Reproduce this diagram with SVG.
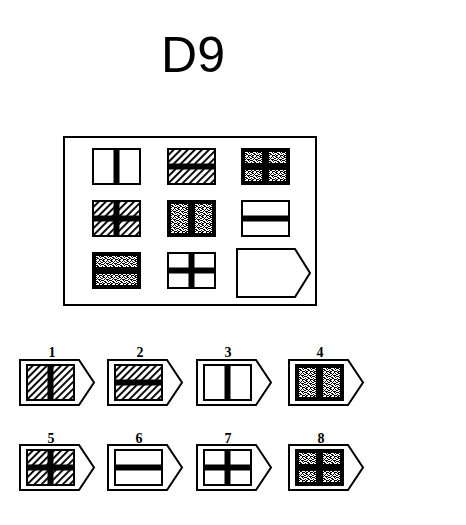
<svg xmlns="http://www.w3.org/2000/svg" xmlns:xlink="http://www.w3.org/1999/xlink" width="466" height="525" viewBox="0 0 466 525">
<style>
.w{fill:#fff;stroke:#000;stroke-width:2}
.h{fill:url(#hatch);stroke:#000;stroke-width:2}
.s{fill:url(#speck);stroke:#000;stroke-width:4}
.pent{fill:#fff;stroke:#000;stroke-width:2}
.lbl{font-family:"Liberation Serif",serif;font-weight:bold;font-size:14px;text-anchor:middle;fill:#000}
.title{font-family:"Liberation Sans",Arial,sans-serif;font-size:50px;text-anchor:middle;fill:#000}
</style>
<defs>
<pattern id="hatch" patternUnits="userSpaceOnUse" width="5" height="5" patternTransform="rotate(45)">
<rect width="5" height="5" fill="#fff"/>
<rect width="1.9" height="5" fill="#000"/>
</pattern>
<pattern id="speck" patternUnits="userSpaceOnUse" width="8" height="8">
<rect width="8" height="8" fill="#000"/>
<path fill="#fff" d="M0 0h2v1h-2z M4 0h3v1h-3z M1 1h2v1h-2z M5 1h1v1h-1z M7 1h1v1h-1z M0 2h1v1h-1z M3 2h2v1h-2z M6 2h2v1h-2z M1 3h3v1h-3z M5 3h1v1h-1z M0 4h1v1h-1z M4 4h3v1h-3z M2 5h2v1h-2z M6 5h2v1h-2z M0 6h2v1h-2z M3 6h2v1h-2z M7 6h1v1h-1z M2 7h1v1h-1z M5 7h2v1h-2z M1 5h1v1h-1z M6 4h1v1h-1z"/>
</pattern>
<g id="wV"><rect class="w" x="1" y="1" width="47" height="35"/><rect x="21.5" y="0" width="6" height="37"/></g>
<g id="wH"><rect class="w" x="1" y="1" width="47" height="35"/><rect x="0" y="15.5" width="49" height="6"/></g>
<g id="wX"><rect class="w" x="1" y="1" width="47" height="35"/><rect x="21.5" y="0" width="6" height="37"/><rect x="0" y="15.5" width="49" height="6"/></g>
<g id="hV"><rect class="h" x="1" y="1" width="47" height="35"/><rect x="21.5" y="0" width="6" height="37"/></g>
<g id="hH"><rect class="h" x="1" y="1" width="47" height="35"/><rect x="0" y="15.5" width="49" height="6"/></g>
<g id="hX"><rect class="h" x="1" y="1" width="47" height="35"/><rect x="21.5" y="0" width="6" height="37"/><rect x="0" y="15.5" width="49" height="6"/></g>
<g id="sV"><rect class="s" x="2" y="2" width="45" height="33"/><rect x="21" y="0" width="7" height="37"/></g>
<g id="sH"><rect class="s" x="2" y="2" width="45" height="33"/><rect x="0" y="15" width="49" height="7"/></g>
<g id="sX"><rect class="s" x="2" y="2" width="45" height="33"/><rect x="21" y="0" width="7" height="37"/><rect x="0" y="15" width="49" height="7"/></g>
<path id="pentO" class="pent" d="M0 0H59L74 22.5L59 45H0Z"/>
</defs>

<text class="title" x="193" y="72">D9</text>

<g id="matrix">
<rect x="64" y="137" width="252" height="168" fill="#fff" stroke="#000" stroke-width="2"/>
</g>
<g id="cell-1-1"><use xlink:href="#wV" x="92" y="148"/></g>
<g id="cell-1-2"><use xlink:href="#hH" x="167" y="148"/></g>
<g id="cell-1-3"><use xlink:href="#sX" x="241" y="148"/></g>
<g id="cell-2-1"><use xlink:href="#hX" x="92" y="200"/></g>
<g id="cell-2-2"><use xlink:href="#sV" x="167" y="200"/></g>
<g id="cell-2-3"><use xlink:href="#wH" x="241" y="200"/></g>
<g id="cell-3-1"><use xlink:href="#sH" x="92" y="252"/></g>
<g id="cell-3-2"><use xlink:href="#wX" x="167" y="252"/></g>
<g id="cell-3-3"><path class="pent" d="M237 249H295L310 273L295 297H237Z"/></g>

<g id="option-1"><text class="lbl" x="52" y="357">1</text><use xlink:href="#pentO" x="20" y="360"/><use xlink:href="#hV" x="26" y="364"/></g>
<g id="option-2"><text class="lbl" x="140" y="357">2</text><use xlink:href="#pentO" x="108" y="360"/><use xlink:href="#hH" x="114" y="364"/></g>
<g id="option-3"><text class="lbl" x="228" y="357">3</text><use xlink:href="#pentO" x="197" y="360"/><use xlink:href="#wV" x="203" y="364"/></g>
<g id="option-4"><text class="lbl" x="320" y="357">4</text><use xlink:href="#pentO" x="289" y="360"/><use xlink:href="#sV" x="295" y="364"/></g>
<g id="option-5"><text class="lbl" x="51" y="443">5</text><use xlink:href="#pentO" x="20" y="445"/><use xlink:href="#hX" x="26" y="449"/></g>
<g id="option-6"><text class="lbl" x="139" y="443">6</text><use xlink:href="#pentO" x="108" y="445"/><use xlink:href="#wH" x="114" y="449"/></g>
<g id="option-7"><text class="lbl" x="228" y="443">7</text><use xlink:href="#pentO" x="197" y="445"/><use xlink:href="#wX" x="203" y="449"/></g>
<g id="option-8"><text class="lbl" x="321" y="443">8</text><use xlink:href="#pentO" x="289" y="445"/><use xlink:href="#sX" x="295" y="449"/></g>
<g id="connectors"/>
</svg>
